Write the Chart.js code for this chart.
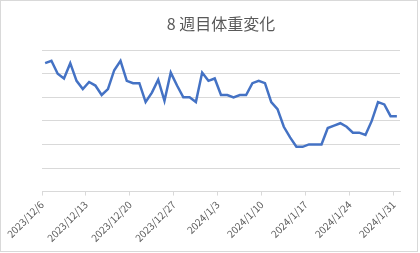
<!DOCTYPE html>
<html lang="ja">
<head>
<meta charset="utf-8">
<title>8週目体重変化</title>
<script src="https://cdn.jsdelivr.net/npm/chart.js@4.4.1/dist/chart.umd.min.js"></script>
<style>
  html, body { margin: 0; padding: 0; background: #fff; }
  .chart-box {
    position: absolute; left: 0; top: 0;
    width: 416px; height: 250px;
    border: 1px solid #d9d9d9;
  }
  #weight-chart { display: block; }
</style>
</head>
<body>
<div class="chart-box"><canvas id="weight-chart" width="416" height="250"></canvas></div>
<script>
/* 8週目体重変化 — 2023/12/6 〜 2024/1/31 の日別体重 */

// 週ごとの目盛ラベル（7日おき）
var tickLabels = [
  '2023/12/6', '2023/12/13', '2023/12/20', '2023/12/27',
  '2024/1/3', '2024/1/10', '2024/1/17', '2024/1/24', '2024/1/31'
];

// 日別体重（kg）12/6 から 57 日分
var weights = [
  63.45, 63.55, 63.00, 62.80, 63.45, 62.70, 62.35,   // 12/6 -
  62.65, 62.50, 62.10, 62.35, 63.15, 63.55, 62.70,   // 12/13 -
  62.60, 62.60, 61.80, 62.20, 62.75, 61.85, 63.05,   // 12/20 -
  62.50, 62.00, 62.00, 61.80, 63.05, 62.70, 62.80,   // 12/27 -
  62.10, 62.10, 62.00, 62.10, 62.10, 62.60, 62.70,   // 1/3 -
  62.60, 61.80, 61.50, 60.75, 60.30, 59.90, 59.90,   // 1/10 -
  60.00, 60.00, 60.00, 60.70, 60.80, 60.90, 60.75,   // 1/17 -
  60.50, 60.50, 60.40, 61.00, 61.80, 61.70, 61.20,   // 1/24 -
  61.20                                             // 1/31
];

// y 軸の範囲（目盛ラベルは非表示）
var yMin = 58, yMax = 64, yStep = 1;

(function () {
  'use strict';

  var GRID = '#d9d9d9';
  var TEXT = '#595959';
  var FONT = '"Noto Sans CJK JP", "Noto Sans", sans-serif';

  // 日付軸：各日の中央に点を置く
  var points = weights.map(function (w, i) { return { x: i + 0.5, y: w }; });

  new Chart(document.getElementById('weight-chart'), {
    type: 'line',
    data: {
      datasets: [{
        label: '体重',
        data: points,
        borderColor: '#4472C4',
        borderWidth: 2.5,
        pointRadius: 0,
        tension: 0,
        fill: false
      }]
    },
    options: {
      responsive: false,
      devicePixelRatio: 1,
      animation: false,
      layout: { padding: { left: 41, right: 17, top: 0, bottom: 4 } },
      plugins: {
        legend: { display: false },
        tooltip: { enabled: false },
        title: {
          display: true,
          text: '8 週目体重変化',
          color: TEXT,
          font: { family: FONT, size: 16, weight: 'normal' },
          padding: { top: 13, bottom: 17 }
        }
      },
      scales: {
        x: {
          type: 'linear',
          min: 0,
          max: tickLabels.length * 7 - 6,
          border: { display: true, color: GRID },
          grid: { drawOnChartArea: false, color: GRID, tickLength: 4 },
          ticks: {
            stepSize: 7,
            includeBounds: false,
            autoSkip: false,
            minRotation: 45,
            maxRotation: 45,
            color: TEXT,
            font: { family: FONT, size: 10 },
            callback: function (v) { return tickLabels[v / 7] || ''; }
          }
        },
        y: {
          min: yMin,
          max: yMax,
          border: { display: false },
          grid: { color: GRID, drawTicks: false },
          ticks: { display: false, stepSize: yStep }
        }
      }
    }
  });
}());
</script>
</body>
</html>
